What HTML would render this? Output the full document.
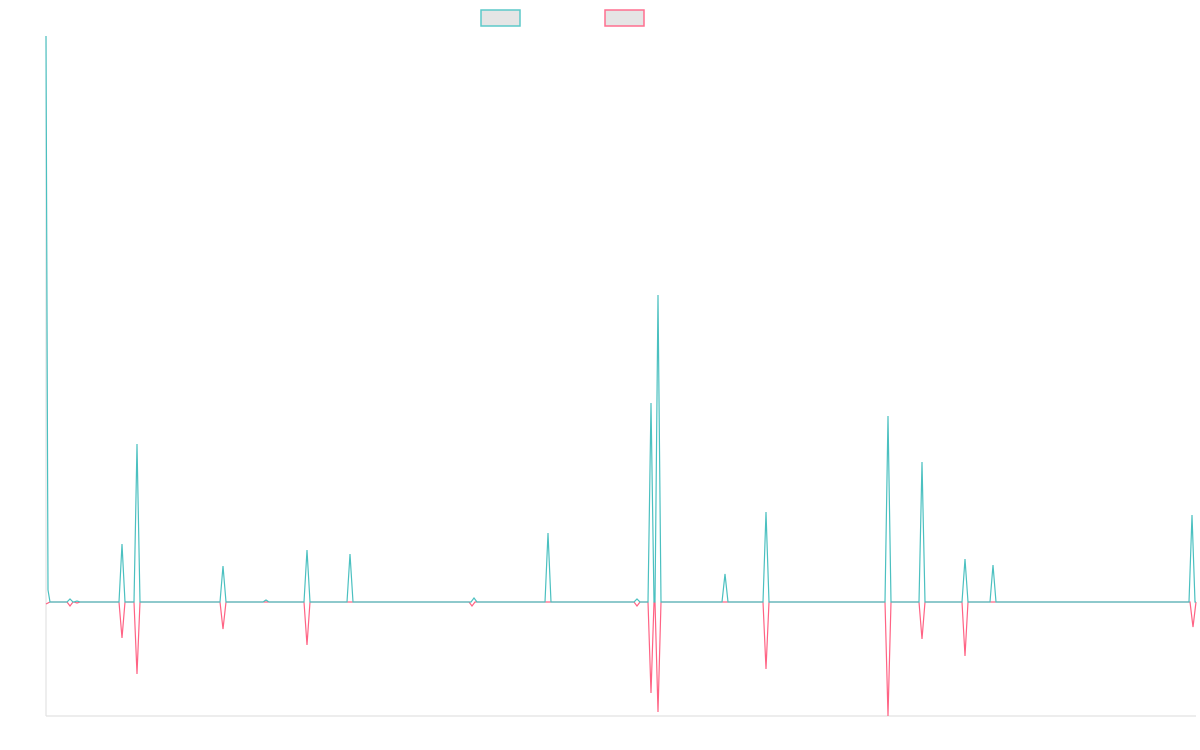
<!DOCTYPE html>
<html><head><meta charset="utf-8"><style>
html,body{margin:0;padding:0;background:#fff;width:1200px;height:750px;overflow:hidden;font-family:"Liberation Sans",sans-serif}
</style></head><body>
<svg id="s" width="1200" height="750" xmlns="http://www.w3.org/2000/svg">
<rect x="481" y="10" width="39" height="16" fill="#e5e5e5" stroke="#5cc9c9" stroke-width="1.5"/>
<rect x="605" y="10" width="39" height="16" fill="#e5e5e5" stroke="#ff6f8f" stroke-width="1.5"/>
<line x1="46" y1="36" x2="46" y2="716" stroke="#e2e2e2" stroke-width="1.2"/>
<line x1="46" y1="716" x2="1196" y2="716" stroke="#e2e2e2" stroke-width="1.2"/>
<polyline id="p" fill="none" stroke="#ff6384" stroke-width="1.2"/>
<polyline id="t" fill="none" stroke="#4bc0c0" stroke-width="1.2"/>
</svg>
<script>
var B=602;
function build(sp,start){
  var pts=start.slice();
  sp.forEach(function(s){pts.push([s[0]-3,B],[s[0],s[1]],[s[0]+3,B]);});
  pts.push([1196,B]);
  return pts.map(function(p){return p[0]+","+p[1]}).join(" ");
}
var teal=[[70,599],[77,601],[122,544],[137,444],[223,566],[266,600],[307,550],[350,554],[474,598],[548,533],[637,599],[651,403],[658,295],[725,574],[766,512],[888,416],[922,462],[965,559],[993,565],[1192,515]];
var pink=[[70,606],[77,603],[122,638],[137,674],[223,629],[307,645],[472,606],[637,606],[651,693],[658,712],[766,669],[888,716],[922,639],[965,656],[1193,627]];
document.getElementById('t').setAttribute('points',build(teal,[[46,36],[48,590],[50,602]]));
document.getElementById('p').setAttribute('points',build(pink,[[46,604],[50,602]]));
</script>
</body></html>
